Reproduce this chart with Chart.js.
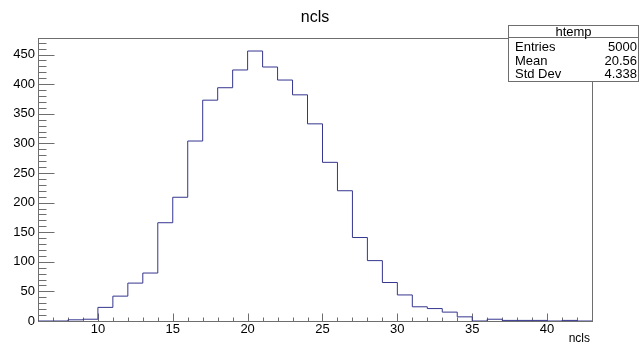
<!DOCTYPE html>
<html>
<head>
<meta charset="utf-8">
<script src="https://cdn.jsdelivr.net/npm/chart.js@4"></script>
<style>
  body { margin: 0; background: #fff; }
  canvas { display: block; }
</style>
</head>
<body>
<canvas id="histChart" width="642" height="345"></canvas>
<script>
// Histogram data (bin lower edges, width 1)
const binLowEdges = [6, 7, 8, 9, 10, 11, 12, 13, 14, 15, 16, 17, 18, 19, 20, 21, 22, 23, 24, 25,
    26, 27, 28, 29, 30, 31, 32, 33, 34, 35, 36, 37, 38, 39, 40, 41, 42];
const binCounts = [0, 0, 2, 3, 23, 42, 64, 81, 166, 209, 304, 373, 394, 424, 456, 429, 407, 382, 333, 268,
    220, 141, 102, 65, 44, 24, 21, 15, 7, 0, 3, 1, 1, 1, 0, 1, 0];
const xMin = 6;
const xMax = 43;
const yMax = 478;
const xTickLabels = [10, 15, 20, 25, 30, 35, 40];
const yTickLabels = [0, 50, 100, 150, 200, 250, 300, 350, 400, 450];

// Stats box
const statsName = "htemp";
const statsLabels = ["Entries", "Mean", "Std Dev"];
const statsValues = ["5000", "20.56", "4.338"];

const histColor = "#35358f";
const frameColor = "#6e6e6e";
const FONT = "'Liberation Sans', Arial, sans-serif";

const points = binLowEdges.map((x, i) => ({ x: x, y: binCounts[i] }));
points.push({ x: xMax, y: binCounts[binCounts.length - 1] });

// Frame, ticks inside frame, title and stats box (ROOT style)
const rootStyle = {
    id: "rootStyle",
    beforeDatasetsDraw(chart) {
        const { ctx, chartArea: a, scales: { x, y } } = chart;
        ctx.save();
        ctx.strokeStyle = frameColor;
        ctx.lineWidth = 1;
        ctx.strokeRect(Math.round(a.left) + 0.5, Math.round(a.top) + 0.5,
            Math.round(a.right - a.left), Math.round(a.bottom - a.top));

        const bottom = Math.round(a.bottom) + 0.5;
        const left = Math.round(a.left) + 0.5;
        ctx.beginPath();
        for (let v = Math.ceil(xMin); v <= xMax; v++) {
            const px = Math.round(x.getPixelForValue(v)) + 0.5;
            const len = v % 5 === 0 ? 8 : 4;
            ctx.moveTo(px, bottom);
            ctx.lineTo(px, bottom - len);
        }
        for (let v = 0; v <= yMax; v += 10) {
            const py = Math.round(y.getPixelForValue(v)) + 0.5;
            const len = v % 50 === 0 ? 16 : 8;
            ctx.moveTo(left, py);
            ctx.lineTo(left + len, py);
        }
        ctx.stroke();
        ctx.restore();
    },
    afterDraw(chart) {
        const { ctx, chartArea: a } = chart;
        ctx.save();
        ctx.fillStyle = "#000";

        // title
        ctx.font = "16px " + FONT;
        ctx.textAlign = "center";
        ctx.textBaseline = "alphabetic";
        ctx.fillText("ncls", 315, 22);

        // x axis title
        ctx.font = "12px " + FONT;
        ctx.textAlign = "right";
        ctx.fillText("ncls", 590, 342);

        // stats box
        const bx = 508.5, by = 25.5, bw = 130, bh = 56;
        ctx.fillStyle = "#fff";
        ctx.fillRect(bx, by, bw, bh);
        ctx.strokeStyle = frameColor;
        ctx.lineWidth = 1;
        ctx.strokeRect(bx, by, bw, bh);
        ctx.beginPath();
        ctx.moveTo(bx, 37.5);
        ctx.lineTo(bx + bw, 37.5);
        ctx.stroke();

        ctx.fillStyle = "#000";
        ctx.font = "13px " + FONT;
        ctx.textAlign = "center";
        ctx.fillText(statsName, bx + bw / 2, 36);
        statsLabels.forEach((lab, i) => {
            const yy = 51 + i * 13.5;
            ctx.textAlign = "left";
            ctx.fillText(lab, 515, yy);
            ctx.textAlign = "right";
            ctx.fillText(statsValues[i], 637, yy);
        });
        ctx.restore();
    }
};

const ctx = document.getElementById("histChart").getContext("2d");
const histChart = new Chart(ctx, {
    type: "line",
    data: {
        datasets: [{
            label: "ncls",
            data: points,
            borderColor: histColor,
            borderWidth: 1,
            stepped: "before",
            pointRadius: 0,
            fill: false,
            tension: 0
        }]
    },
    options: {
        responsive: false,
        animation: false,
        devicePixelRatio: 1,
        layout: { padding: { top: 38, right: 50, left: 0, bottom: 0 } },
        plugins: {
            legend: { display: false },
            title: { display: false },
            tooltip: { enabled: false }
        },
        scales: {
            x: {
                type: "linear",
                min: xMin,
                max: xMax,
                afterBuildTicks: (s) => { s.ticks = xTickLabels.map(v => ({ value: v })); },
                afterFit: (s) => { s.height = 24; },
                grid: { display: false, drawTicks: false },
                border: { display: false },
                ticks: { color: "#000", font: { family: FONT, size: 13 }, padding: 1, maxRotation: 0 }
            },
            y: {
                type: "linear",
                min: 0,
                max: yMax,
                afterBuildTicks: (s) => { s.ticks = yTickLabels.map(v => ({ value: v })); },
                afterFit: (s) => { s.width = 38; },
                grid: { display: false, drawTicks: false },
                border: { display: false },
                ticks: { color: "#000", font: { family: FONT, size: 13 }, padding: 3 }
            }
        }
    },
    plugins: [rootStyle]
});
</script>
</body>
</html>
